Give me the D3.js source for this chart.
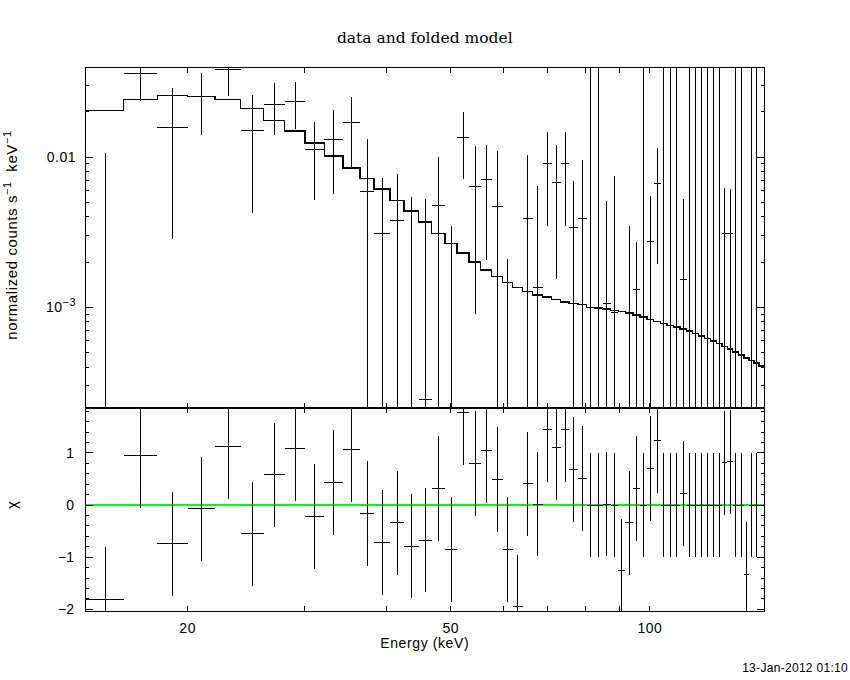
<!DOCTYPE html>
<html>
<head>
<meta charset="utf-8">
<script src="https://cdn.jsdelivr.net/npm/d3@7"></script>
<style>
body { margin: 0; background: #fff; }
text { font-family: "Liberation Sans", Arial, sans-serif; fill: #000; }
</style>
</head>
<body>
<div id="chart"></div>
<script>

// channel edges (keV)
var binEdges = [14.0, 16.0, 18.0, 20.0, 22.0, 24.05, 26.06, 28.03, 30.1, 32.18,
    34.36, 36.44, 38.26, 40.45, 42.51, 44.7, 46.77, 48.97, 51.12, 53.3,
    55.47, 57.63, 59.88, 62.0, 64.2, 66.48, 68.83, 71.0, 73.3, 75.5,
    77.9, 80.2, 82.6, 84.8, 87.2, 89.6, 91.8, 94.3, 96.6, 99.0,
    101.3, 103.8, 106.1, 108.5, 111.0, 113.6, 116.0, 118.5, 121.0, 123.5,
    126.0, 128.5, 130.9, 133.4, 136.0, 138.7, 141.2, 143.6, 146.3, 149.0];

// folded model, counts/s/keV per channel
var modelRate = [0.02046, 0.0241, 0.02563, 0.0254, 0.0241, 0.0210, 0.01754, 0.01490, 0.01240, 0.01015,
    0.00845, 0.00720, 0.00615, 0.00514, 0.00439, 0.00369, 0.00310, 0.00265, 0.00229, 0.00200,
    0.00177, 0.00160, 0.00146, 0.00135, 0.00127, 0.00121, 0.00117, 0.00113, 0.00108, 0.00106,
    0.00104, 0.00100, 0.000985, 0.000970, 0.000952, 0.000938, 0.000917, 0.000885, 0.000858, 0.000832,
    0.000802, 0.000782, 0.000756, 0.000736, 0.000717, 0.000695, 0.000671, 0.000644, 0.000621, 0.000596,
    0.000574, 0.000548, 0.000527, 0.000504, 0.000481, 0.000459, 0.000442, 0.000425, 0.000406];

// measured rate and 1-sigma error
var dataRate = [-0.0014, 0.0363, 0.01585, 0.0252, 0.0383, 0.01514, 0.02256, 0.02362, 0.01118, 0.01318,
    0.01693, 0.00594, 0.00311, 0.0038, 0.0001, 0.000244, 0.00474, -0.0020, 0.0136, 0.0064,
    0.00706, 0.00466, -0.0021, -0.0065, 0.00392, 0.00136, 0.00902, 0.00681, 0.00902, 0.00341,
    0.00392, 0.00100, 0.000985, 0.001057, 0.00092, -0.0041, -0.0004, 0.00132, 0.000858, 0.002746,
    0.00671, 0.000782, 0.000756, 0.000736, 0.001537, 0.000695, 0.000671, 0.000644, 0.000621, 0.000596,
    0.000574, 0.00311, 0.00308, 0.000504, 0.000481, -0.0049, 0.000442, 0.000425];

var dataErr = [0.0121, 0.0128, 0.0130, 0.0112, 0.0129, 0.0109, 0.0086, 0.0082, 0.0060, 0.0075,
    0.0083, 0.0073, 0.00417, 0.00394, 0.00536, 0.0050, 0.0052, 0.0055, 0.0064, 0.0055,
    0.0050, 0.00635, 0.0042, 0.0040, 0.00644, 0.00508, 0.00557, 0.00527, 0.00557, 0.00357,
    0.00568, 0.05, 0.05, 0.00405, 0.00658, 0.0040, 0.00388, 0.00138, 0.05, 0.00277,
    0.00477, 0.05, 0.05, 0.05, 0.00371, 0.05, 0.05, 0.05, 0.05, 0.05,
    0.05, 0.00313, 0.00304, 0.05, 0.05, 0.0040, 0.05, 0.05];

// residuals (chi)
var chiVals = [-1.81, 0.95, -0.74, -0.07, 1.12, -0.55, 0.58, 1.08, -0.22, 0.43,
    1.06, -0.16, -0.72, -0.34, -0.79, -0.67, 0.32, -0.85, 1.77, 0.80,
    1.04, 0.49, -0.85, -1.95, 0.41, 0.02, 1.45, 1.10, 1.45, 0.68,
    0.51, 0, 0, 0.02, 0, -1.26, -0.34, 0.32, 0, 0.70,
    1.24, 0, 0, 0, 0.22, 0, 0, 0, 0, 0,
    0, 0.81, 0.83, 0, 0, -1.33, 0, 0];

var energyTickLabels = [20, 50, 100];
var rateTickLabels = [0.01, 0.001];
var chiTickLabels = [1, 0, -1, -2];

var svgWidth = 850;
var svgHeight = 680;

// plot frame
var plotLeft = 85, plotRight = 764.5;
var topY = 67.5, midY = 407.5, bottomY = 611;

var svg = d3.select('#chart')
    .append('svg')
    .attr('width', svgWidth)
    .attr('height', svgHeight);

svg.append('rect').attr('width', svgWidth).attr('height', svgHeight).attr('fill', '#fff');

var xScale = d3.scaleLog().domain([13.99, 149.0]).range([plotLeft, plotRight]);
var yScale = d3.scaleLog().domain([2.15e-4, 0.0395]).range([midY, topY]);
var chiScale = d3.scaleLinear().domain([-2.03, 1.87]).range([bottomY, midY]);

var yMin = yScale.domain()[0], yMax = yScale.domain()[1];
var cMin = chiScale.domain()[0], cMax = chiScale.domain()[1];

var defs = svg.append('defs');
defs.append('clipPath').attr('id', 'clipTop').append('rect')
    .attr('x', plotLeft).attr('y', topY).attr('width', plotRight - plotLeft).attr('height', midY - topY);
defs.append('clipPath').attr('id', 'clipBot').append('rect')
    .attr('x', plotLeft).attr('y', midY).attr('width', plotRight - plotLeft).attr('height', bottomY - midY);

var points = dataRate.map(function(d, i) {
    return {
        lo: binEdges[i], hi: binEdges[i + 1], mid: (binEdges[i] + binEdges[i + 1]) / 2,
        rate: d, err: dataErr[i], chi: chiVals[i]
    };
});

// ---- top panel: data and model
var topG = svg.append('g').attr('clip-path', 'url(#clipTop)')
    .attr('stroke', '#000').attr('shape-rendering', 'crispEdges');

points.forEach(function(p) {
    var up = p.rate + p.err, down = p.rate - p.err;
    if (up > yMin) {
        topG.append('line')
            .attr('x1', xScale(p.mid)).attr('x2', xScale(p.mid))
            .attr('y1', yScale(Math.min(up, yMax * 1.2)))
            .attr('y2', down > yMin ? yScale(down) : midY + 2)
            .attr('stroke-width', 1);
    }
    if (p.rate > yMin && p.rate < yMax) {
        topG.append('line')
            .attr('x1', xScale(p.lo)).attr('x2', xScale(p.hi))
            .attr('y1', yScale(p.rate)).attr('y2', yScale(p.rate))
            .attr('stroke-width', 1);
    }
});

var stepPts = [];
modelRate.forEach(function(m, i) {
    stepPts.push([binEdges[i], m]);
    stepPts.push([binEdges[i + 1], m]);
});
var modelLine = d3.line().x(d => xScale(d[0])).y(d => yScale(d[1]));
topG.append('path')
    .attr('d', modelLine(stepPts))
    .attr('fill', 'none')
    .attr('stroke-width', 1.5);

// ---- bottom panel: residuals
var botG = svg.append('g').attr('clip-path', 'url(#clipBot)')
    .attr('stroke', '#000').attr('shape-rendering', 'crispEdges');

botG.append('line')
    .attr('x1', plotLeft).attr('x2', plotRight)
    .attr('y1', chiScale(0)).attr('y2', chiScale(0))
    .attr('stroke', '#00ff00').attr('stroke-width', 2);

points.forEach(function(p) {
    botG.append('line')
        .attr('x1', xScale(p.mid)).attr('x2', xScale(p.mid))
        .attr('y1', chiScale(Math.min(p.chi + 1, cMax + 0.1)))
        .attr('y2', chiScale(Math.max(p.chi - 1, cMin - 0.1)))
        .attr('stroke-width', 1);
    if (p.chi > cMin && p.chi < cMax) {
        botG.append('line')
            .attr('x1', xScale(p.lo)).attr('x2', xScale(p.hi))
            .attr('y1', chiScale(p.chi)).attr('y2', chiScale(p.chi))
            .attr('stroke-width', 1);
    }
});

// ---- frames and ticks
var axG = svg.append('g').attr('stroke', '#000').attr('shape-rendering', 'crispEdges').attr('fill', 'none');

axG.append('rect').attr('x', plotLeft).attr('y', topY)
    .attr('width', plotRight - plotLeft).attr('height', bottomY - topY);
axG.append('line').attr('x1', plotLeft).attr('x2', plotRight)
    .attr('y1', midY).attr('y2', midY).attr('stroke-width', 2);

// energy ticks on both panels
xScale.ticks().forEach(function(t) {
    var x = xScale(t);
    [[topY, 5], [midY, -5], [midY, 5], [bottomY, -5]].forEach(function(s) {
        axG.append('line').attr('x1', x).attr('x2', x)
            .attr('y1', s[0]).attr('y2', s[0] + s[1]);
    });
});

// rate ticks
yScale.ticks().forEach(function(t) {
    var y = yScale(t);
    var lg = Math.log10(t);
    var len = Math.abs(lg - Math.round(lg)) < 1e-6 ? 8 : 4;
    axG.append('line').attr('x1', plotLeft).attr('x2', plotLeft + len).attr('y1', y).attr('y2', y);
    axG.append('line').attr('x1', plotRight).attr('x2', plotRight - len).attr('y1', y).attr('y2', y);
});

// chi ticks every 0.2
d3.range(-10, 10).map(k => k / 5).filter(v => v > cMin && v < cMax).forEach(function(t) {
    var y = chiScale(t);
    var len = Math.abs(t - Math.round(t)) < 1e-6 ? 8 : 4;
    axG.append('line').attr('x1', plotLeft).attr('x2', plotLeft + len).attr('y1', y).attr('y2', y);
    axG.append('line').attr('x1', plotRight).attr('x2', plotRight - len).attr('y1', y).attr('y2', y);
});

// ---- labels
svg.selectAll('.xTick')
    .data(energyTickLabels)
    .enter()
    .append('text')
    .attr('x', d => xScale(d))
    .attr('y', 633)
    .attr('text-anchor', 'middle')
    .attr('font-size', '14px')
    .attr('letter-spacing', '0.5px')
    .text(d => d);

svg.selectAll('.rateTick')
    .data(rateTickLabels)
    .enter()
    .append('text')
    .attr('x', 76)
    .attr('y', d => yScale(d) + 5)
    .attr('text-anchor', 'end')
    .attr('font-size', '14px')
    .attr('letter-spacing', '0.5px')
    .each(function(d) {
        var el = d3.select(this);
        if (d >= 0.01) {
            el.text('0.01');
        } else {
            el.append('tspan').text('10');
            el.append('tspan').attr('dy', -6).attr('font-size', '11px')
                .text('\u2212' + Math.round(-Math.log10(d)));
        }
    });

svg.selectAll('.chiTick')
    .data(chiTickLabels)
    .enter()
    .append('text')
    .attr('x', 74)
    .attr('y', d => chiScale(d) + 5)
    .attr('text-anchor', 'end')
    .attr('font-size', '14px')
    .text(d => d < 0 ? '\u2212' + (-d) : d);

var yLab = svg.append('text')
    .attr('transform', 'translate(17,235) rotate(-90)')
    .attr('text-anchor', 'middle')
    .attr('font-size', '15px')
    .attr('letter-spacing', '0.6px');
yLab.append('tspan').text('normalized counts s');
yLab.append('tspan').attr('dy', -6).attr('font-size', '11px').text('\u22121');
yLab.append('tspan').attr('dy', 6).text('\u00a0 keV');
yLab.append('tspan').attr('dy', -6).attr('font-size', '11px').text('\u22121');

svg.append('text')
    .attr('transform', 'translate(17,505) rotate(-90)')
    .attr('text-anchor', 'middle')
    .attr('font-size', '15px')
    .text('\u03c7');

svg.append('text')
    .attr('x', (plotLeft + plotRight) / 2)
    .attr('y', 648)
    .attr('text-anchor', 'middle')
    .attr('font-size', '14px')
    .attr('letter-spacing', '0.6px')
    .text('Energy (keV)');

svg.append('text')
    .attr('x', (plotLeft + plotRight) / 2)
    .attr('y', 43)
    .attr('text-anchor', 'middle')
    .style('font-family', '"DejaVu Serif", serif')
    .attr('font-size', '15.5px')
    .text('data and folded model');

svg.append('text')
    .attr('x', 848)
    .attr('y', 672)
    .attr('text-anchor', 'end')
    .attr('font-size', '12px')
    .attr('letter-spacing', '0.3px')
    .text('13-Jan-2012 01:10');

</script>
</body>
</html>
